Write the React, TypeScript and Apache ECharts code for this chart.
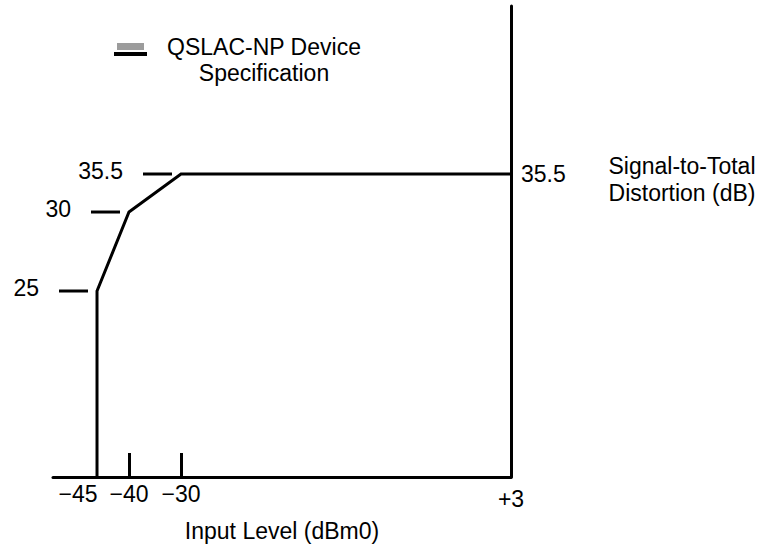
import React, { useEffect, useRef } from "react";
import * as echarts from "echarts";

// ---- data ----
const specInputLevel = [-45, -40, -30, 3]; // dBm0
const specSTD = [25, 30, 35.5, 35.5]; // dB
const xTickValues = [-45, -40, -30, 3];
const xTickLabels = ["\u221245", "\u221240", "\u221230", "+3"];
const yTickValues = [25, 30, 35.5];
const yTickLabels = ["25", "30", "35.5"];
const yRightValues = [35.5];
const yRightLabels = ["35.5"];

// ---- schematic (not-to-scale) axes: each segment drawn at its own scale ----
const X_STOPS = [-52, -45, -40, -30, 3];
const X_FRAC = [0, 0.0961, 0.1659, 0.2795, 1];
const Y_STOPS = [12, 25, 30, 35.5, 60];
const Y_FRAC = [0, 0.3949, 0.5626, 0.6433, 1];

function warp(v: number, stops: number[], frac: number[]): number {
  if (v <= stops[0]) return frac[0];
  for (let i = 1; i < stops.length; i++) {
    if (v <= stops[i]) {
      const t = (v - stops[i - 1]) / (stops[i] - stops[i - 1]);
      return frac[i - 1] + t * (frac[i] - frac[i - 1]);
    }
  }
  return frac[frac.length - 1];
}
const wx = (v: number) => warp(v, X_STOPS, X_FRAC);
const wy = (v: number) => warp(v, Y_STOPS, Y_FRAC);

const FONT = "'Liberation Sans', Arial, Helvetica, sans-serif";
const FS = 23;

function labelFor(v: number, vals: number[], labels: string[], f: (n: number) => number) {
  for (let i = 0; i < vals.length; i++) {
    if (Math.abs(f(vals[i]) - v) < 1e-6) return { i, text: labels[i] };
  }
  return null;
}

export default function App() {
  const ref = useRef<HTMLDivElement>(null);
  useEffect(() => {
    if (!ref.current) return;
    const chart = echarts.init(ref.current, undefined, { renderer: "svg" });

    const curve: number[][] = [[wx(specInputLevel[0]), wy(Y_STOPS[0])]];
    specInputLevel.forEach((x, i) => curve.push([wx(x), wy(specSTD[i])]));

    const tickPoints = yTickValues.map((y) => {
      const idx = specSTD.indexOf(y);
      return [wx(specInputLevel[idx]), wy(y)];
    });

    chart.setOption({
      animation: false,
      textStyle: { fontFamily: FONT },
      grid: { left: 53, right: 255, top: 6, bottom: 72 },
      xAxis: {
        type: "value",
        min: 0,
        max: 1,
        splitLine: { show: false },
        axisLine: { show: true, onZero: false, lineStyle: { color: "#000", width: 3 } },
        axisTick: {
          show: true,
          inside: true,
          length: 24,
          lineStyle: { color: "#000", width: 3 },
          customValues: [wx(-40), wx(-30)],
        },
        axisLabel: {
          show: true,
          margin: 5,
          color: "#000",
          fontSize: FS,
          fontFamily: FONT,
          customValues: xTickValues.map(wx),
          formatter: (v: number) => {
            const r = labelFor(v, xTickValues, xTickLabels, wx);
            if (!r) return "";
            if (r.i === 0) return "{l|" + r.text + "}";
            if (r.i === xTickValues.length - 1) return "{r|" + r.text + "}";
            return "{n|" + r.text + "}";
          },
          rich: {
            l: { fontSize: FS, color: "#000", fontFamily: FONT, padding: [0, 38, 0, 0] },
            r: { fontSize: FS, color: "#000", fontFamily: FONT, padding: [5, 0, 0, 0] },
            n: { fontSize: FS, color: "#000", fontFamily: FONT },
          },
        },
      },
      yAxis: {
        type: "value",
        position: "right",
        min: 0,
        max: 1,
        splitLine: { show: false },
        axisLine: { show: true, onZero: false, lineStyle: { color: "#000", width: 3 } },
        axisTick: { show: false },
        axisLabel: {
          show: true,
          margin: 10,
          color: "#000",
          fontSize: FS,
          fontFamily: FONT,
          customValues: yRightValues.map(wy),
          formatter: (v: number) => {
            const r = labelFor(v, yRightValues, yRightLabels, wy);
            return r ? r.text : "";
          },
        },
      },
      series: [
        {
          name: "QSLAC-NP Device Specification",
          type: "line",
          data: curve,
          symbol: "none",
          lineStyle: { color: "#000", width: 3, join: "miter" },
          z: 5,
        },
        {
          type: "custom",
          data: tickPoints,
          z: 4,
          renderItem: (params: any, api: any) => {
            const p = api.coord([api.value(0), api.value(1)]);
            const gap = 9;
            const len = 29;
            return {
              type: "group",
              children: [
                {
                  type: "line",
                  shape: { x1: p[0] - gap - len, y1: p[1], x2: p[0] - gap, y2: p[1] },
                  style: { stroke: "#000", lineWidth: 3 },
                },
                {
                  type: "text",
                  x: p[0] - gap - len - 20,
                  y: p[1] - 3,
                  style: {
                    text: yTickLabels[params.dataIndex],
                    align: "right",
                    verticalAlign: "middle",
                    fill: "#000",
                    fontSize: FS,
                    fontFamily: FONT,
                  },
                },
              ],
            };
          },
        },
      ],
      graphic: [
        { type: "rect", shape: { x: 117, y: 43, width: 27, height: 7 }, style: { fill: "#9c9c9c" } },
        { type: "rect", shape: { x: 114, y: 52, width: 33, height: 4 }, style: { fill: "#000" } },
        {
          type: "text",
          x: 264,
          y: 60,
          style: {
            text: "QSLAC-NP Device\nSpecification",
            align: "center",
            verticalAlign: "middle",
            lineHeight: 26,
            fill: "#000",
            fontSize: FS,
            fontFamily: FONT,
          },
        },
        {
          type: "text",
          x: 682,
          y: 179,
          style: {
            text: "Signal-to-Total\nDistortion (dB)",
            align: "center",
            verticalAlign: "middle",
            lineHeight: 27,
            fill: "#000",
            fontSize: FS,
            fontFamily: FONT,
          },
        },
        {
          type: "text",
          x: 282,
          y: 531,
          style: {
            text: "Input Level (dBm0)",
            align: "center",
            verticalAlign: "middle",
            fill: "#000",
            fontSize: FS,
            fontFamily: FONT,
          },
        },
      ],
    });
    return () => chart.dispose();
  }, []);
  return (
    <div
      ref={ref}
      style={{ position: "absolute", left: 0, top: 0, width: 766, height: 549 }}
    />
  );
}
